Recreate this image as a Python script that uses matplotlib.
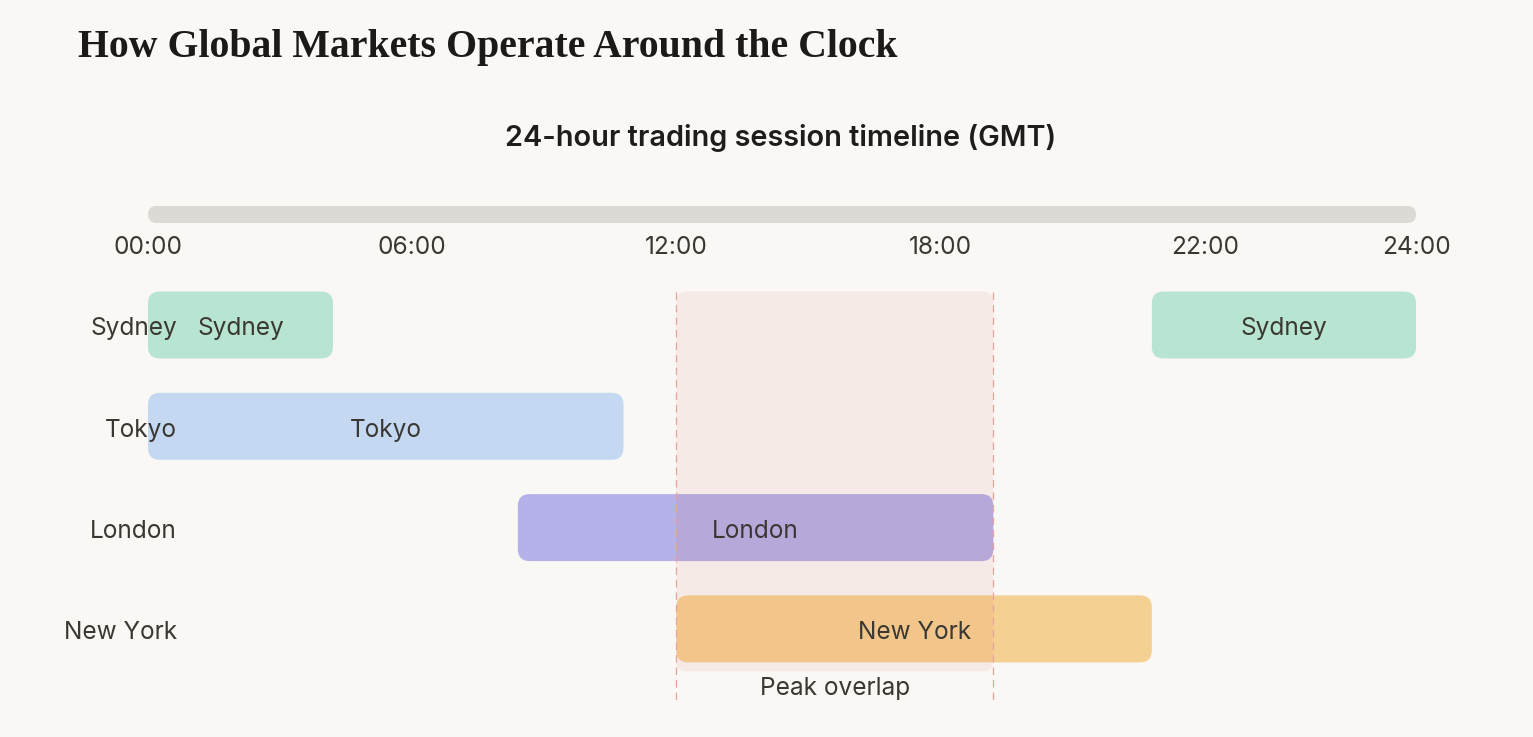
import matplotlib
matplotlib.use("Agg")
import matplotlib.pyplot as plt
from matplotlib.patches import FancyBboxPatch

# ---- data ----
markets = ["Sydney", "Tokyo", "London", "New York"]
sessions = [  # (market index, start hour, end hour)
    (0, 0.0, 3.5),
    (0, 19.0, 24.0),
    (1, 0.0, 9.0),
    (2, 7.0, 16.0),
    (3, 10.0, 19.0),
]
market_colors = ["#b8e4d2", "#c4d8f2", "#b5b1e9", "#f4d192"]
tick_positions = [0, 5, 10, 15, 20, 24]
tick_labels = ["00:00", "06:00", "12:00", "18:00", "22:00", "24:00"]
overlap_start, overlap_end = 10.0, 16.0
timeline_start, timeline_end = 0.0, 24.0

title = "How Global Markets Operate Around the Clock"
subtitle = "24-hour trading session timeline (GMT)"

# ---- style ----
BG = "#f9f8f5"
TXT = "#3b3834"
SANS = ["Inter", "DejaVu Sans"]
W, H, DPI = 1533, 737, 100

fig = plt.figure(figsize=(W / DPI, H / DPI), dpi=DPI, facecolor=BG)
ax = fig.add_axes([0, 0, 1, 1])
ax.set_facecolor(BG)
ax.axis("off")

# map hours -> pixels: 0h at x=148px, 24h at x=1416px
px_per_h = (1416 - 148) / 24.0
x0 = -148 / px_per_h
x1 = (W - 148) / px_per_h
ax.set_xlim(x0, x1)
# rows: row 0 centre at y=325px, spacing 101.3px (top-down)
px_per_row = 101.3
y_top = -325 / px_per_row
y_bot = (H - 325) / px_per_row
ax.set_ylim(y_bot, y_top)

aspect = px_per_h / px_per_row  # for circular corners


def rbox(xs, xe, yc, h, r_px, **kw):
    r = r_px / px_per_h
    p = FancyBboxPatch((xs, yc - h / 2), xe - xs, h,
                       boxstyle=f"round,pad=0,rounding_size={r}",
                       mutation_aspect=aspect, linewidth=0, **kw)
    ax.add_patch(p)
    return p


FS = 17.6
# timeline bar
tl_y = (214.5 - 325) / px_per_row
rbox(timeline_start, timeline_end, tl_y, 17 / px_per_row, 8.5, facecolor="#dcdad5")
tick_y = (247 - 325) / px_per_row
for pos, lab in zip(tick_positions, tick_labels):
    ax.text(pos, tick_y, lab, ha="center", va="center", fontsize=FS,
            family=SANS, color=TXT)

# row labels
bar_h = 67 / px_per_row
txt_off = 4 / px_per_row
for i, m in enumerate(markets):
    ax.text(0.55, i + txt_off, m, ha="right", va="center", fontsize=FS,
            family=SANS, color=TXT)

# session bars
for idx, s, e in sessions:
    rbox(s, e, idx, bar_h, 12, facecolor=market_colors[idx], zorder=2)
    ax.text((s + e) / 2, idx + txt_off, markets[idx], ha="center", va="center",
            fontsize=FS, family=SANS, color=TXT, zorder=4)

# peak overlap shading (on top of bars)
ov_top = -bar_h / 2
ov_bot = len(markets) - 1 + bar_h / 2 + 9 / px_per_row
rbox(overlap_start, overlap_end, (ov_top + ov_bot) / 2, ov_bot - ov_top, 10,
     facecolor="#dc3e2d", alpha=0.075, zorder=3)
line_bot = (703 - 325) / px_per_row
for xv in (overlap_start, overlap_end):
    ax.plot([xv, xv], [ov_top, line_bot], color="#e8a29c", lw=0.9,
            ls=(0, (6, 4)), zorder=3.5)
ax.text((overlap_start + overlap_end) / 2, (688 - 325) / px_per_row,
        "Peak overlap", ha="center", va="center", fontsize=FS, family=SANS,
        color=TXT, zorder=4)

# titles
fig.text(78 / W, 1 - 57 / H, title, ha="left", va="baseline", fontsize=28.6,
         family=["Liberation Serif", "DejaVu Serif"], weight="bold", color="#1c1a17")
fig.text(781 / W, 1 - 146.5 / H, subtitle, ha="center", va="baseline",
         fontsize=20.8, family=SANS, weight="semibold", color="#1f1d1a")

fig.savefig("out.png", dpi=DPI, facecolor=BG)
